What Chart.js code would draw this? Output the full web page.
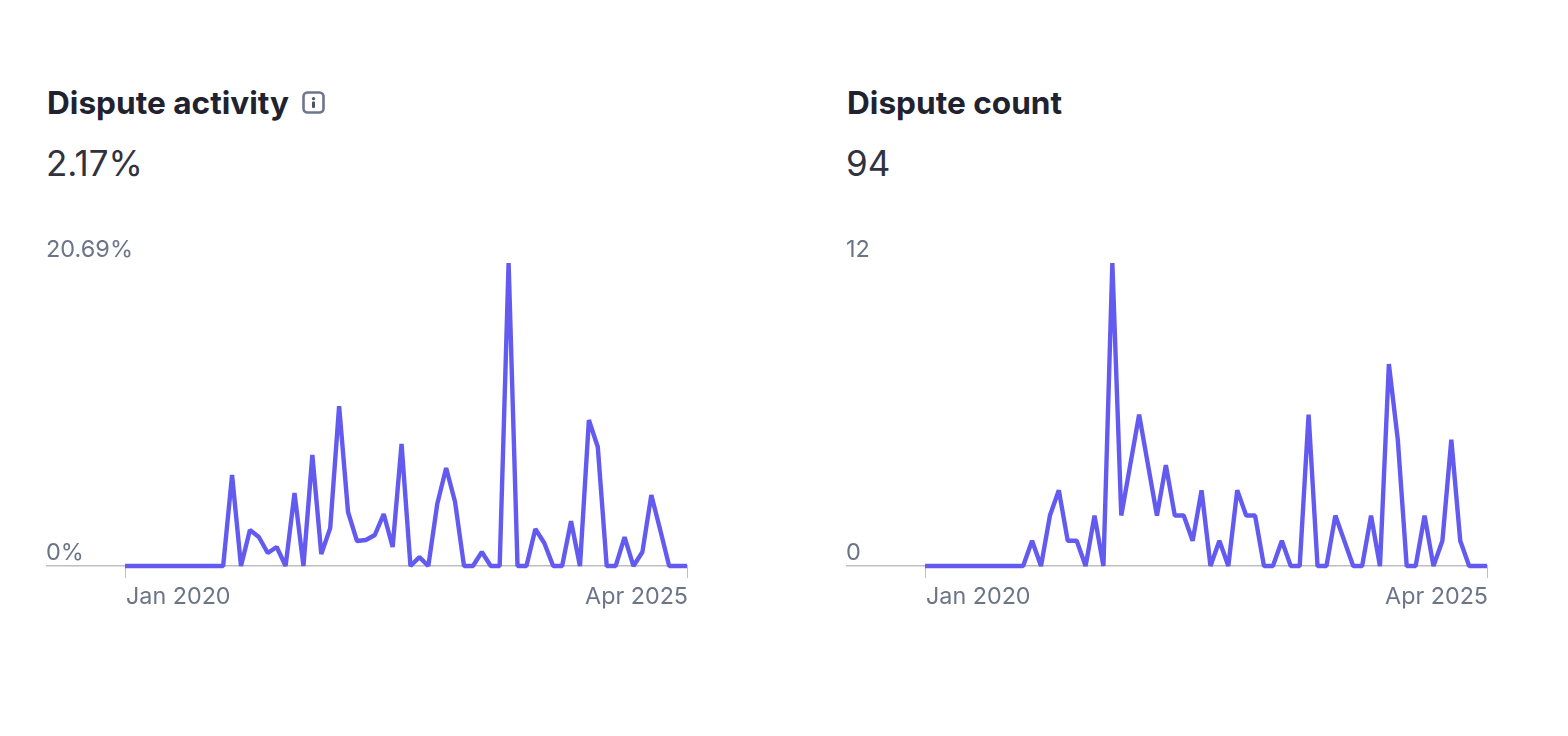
<!DOCTYPE html>
<html>
<head>
<meta charset="utf-8">
<title>Disputes</title>
<script src="https://cdn.jsdelivr.net/npm/chart.js@4"></script>
<style>
  html, body { margin: 0; padding: 0; background: #fff; }
  body { width: 1568px; height: 736px; position: relative; overflow: hidden; font-family: Inter, sans-serif; }
  .title { position: absolute; top: 84px; font-size: 31.6px; line-height: 38px; font-weight: 700; color: #1f2330; white-space: nowrap; }
  .value { position: absolute; top: 142px; font-size: 35px; line-height: 42px; font-weight: 400; color: #30333f; white-space: nowrap; }
  .info { position: absolute; left: 302px; top: 91px; }
  .box { position: absolute; top: 220px; width: 650px; height: 396px; }
</style>
</head>
<body>
<div class="title" style="left:47px">Dispute activity</div>
<svg class="info" width="23" height="23" viewBox="0 0 23 23">
  <rect x="1.5" y="1.5" width="20" height="20" rx="4" fill="none" stroke="#6f7490" stroke-width="2.6"/>
  <circle cx="11.5" cy="7.6" r="1.6" fill="#4d5268"/>
  <rect x="10" y="10.5" width="3" height="6.5" rx="1" fill="#4d5268"/>
</svg>
<div class="value" style="left:46px">2.17%</div>
<div class="box" style="left:46px"><canvas id="activity-chart"></canvas></div>

<div class="title" style="left:847px">Dispute count</div>
<div class="value" style="left:846px">94</div>
<div class="box" style="left:846px"><canvas id="count-chart"></canvas></div>

<script>
const months = [
    'Jan 2020','Feb 2020','Mar 2020','Apr 2020','May 2020','Jun 2020','Jul 2020','Aug 2020','Sep 2020','Oct 2020','Nov 2020','Dec 2020',
    'Jan 2021','Feb 2021','Mar 2021','Apr 2021','May 2021','Jun 2021','Jul 2021','Aug 2021','Sep 2021','Oct 2021','Nov 2021','Dec 2021',
    'Jan 2022','Feb 2022','Mar 2022','Apr 2022','May 2022','Jun 2022','Jul 2022','Aug 2022','Sep 2022','Oct 2022','Nov 2022','Dec 2022',
    'Jan 2023','Feb 2023','Mar 2023','Apr 2023','May 2023','Jun 2023','Jul 2023','Aug 2023','Sep 2023','Oct 2023','Nov 2023','Dec 2023',
    'Jan 2024','Feb 2024','Mar 2024','Apr 2024','May 2024','Jun 2024','Jul 2024','Aug 2024','Sep 2024','Oct 2024','Nov 2024','Dec 2024',
    'Jan 2025','Feb 2025','Mar 2025','Apr 2025'
];

// Dispute activity, percent per month
const activityValues = [
    0, 0, 0, 0, 0, 0, 0, 0, 0, 0, 0, 0,
    6.21, 0, 2.46, 1.98, 0.89, 1.30, 0, 4.98, 0, 7.58, 0.82, 2.59,
    10.92, 3.69, 1.71, 1.78, 2.12, 3.55, 1.30, 8.33, 0, 0.61, 0, 4.23,
    6.69, 4.37, 0, 0, 0.96, 0, 0, 20.69, 0, 0, 2.53, 1.57,
    0, 0, 3.07, 0, 9.97, 8.13, 0, 0, 1.98, 0, 0.96, 4.85,
    2.46, 0, 0, 0
];

// Dispute count per month (adds up to 94)
const countValues = [
    0, 0, 0, 0, 0, 0, 0, 0, 0, 0, 0, 0,
    1, 0, 2, 3, 1, 1, 0, 2, 0, 12, 2, 4,
    6, 4, 2, 4, 2, 2, 1, 3, 0, 1, 0, 3,
    2, 2, 0, 0, 1, 0, 0, 6, 0, 0, 2, 1,
    0, 0, 2, 0, 8, 5, 0, 0, 2, 0, 1, 5,
    1, 0, 0, 0
];

const xTicks = [0, 63];
const activityTicks = [0, 20.69];
const countTicks = [0, 12];

const lineColor = '#635bf0';
const tickColor = '#6b7587';
const axisColor = '#bdbec4';

const renderChart = (canvasId, values, yTicks, suffix) => {
    const ctx = document.getElementById(canvasId).getContext('2d');
    return new Chart(ctx, {
        type: 'line',
        data: {
            datasets: [{
                data: values.map((v, i) => ({ x: i, y: v })),
                borderColor: lineColor,
                borderWidth: 4.4,
                borderJoinStyle: 'bevel',
                pointRadius: 0,
                tension: 0,
                clip: false
            }]
        },
        options: {
            responsive: true,
            maintainAspectRatio: false,
            animation: false,
            layout: { padding: { top: 43, right: 9, left: 0, bottom: 0 } },
            plugins: { legend: { display: false }, tooltip: { enabled: false } },
            scales: {
                x: {
                    type: 'linear',
                    // room left of Jan 2020 holds the y labels, the baseline runs under them
                    min: -8.86,
                    max: 63,
                    afterBuildTicks: (axis) => { axis.ticks = xTicks.map(v => ({ value: v })); },
                    border: { display: true, color: axisColor, width: 1.5, dash: [4, 2] },
                    grid: { drawOnChartArea: false, drawTicks: true, tickLength: 12, tickColor: axisColor },
                    ticks: {
                        align: 'inner',
                        autoSkip: false,
                        maxRotation: 0,
                        padding: 5,
                        labelOffset: 1,
                        color: tickColor,
                        font: { family: 'Inter', size: 23.3 },
                        callback: (v) => months[v]
                    }
                },
                y: {
                    min: yTicks[0],
                    max: yTicks[1],
                    afterBuildTicks: (axis) => { axis.ticks = yTicks.map(v => ({ value: v })); },
                    afterFit: (axis) => { axis.width = 0; },
                    border: { display: false },
                    grid: { display: false },
                    ticks: {
                        mirror: true,
                        padding: 0,
                        labelOffset: -13,
                        color: tickColor,
                        font: { family: 'Inter', size: 23.5 },
                        callback: (v) => v + suffix
                    }
                }
            }
        }
    });
};

renderChart('activity-chart', activityValues, activityTicks, '%');
renderChart('count-chart', countValues, countTicks, '');
</script>
</body>
</html>
